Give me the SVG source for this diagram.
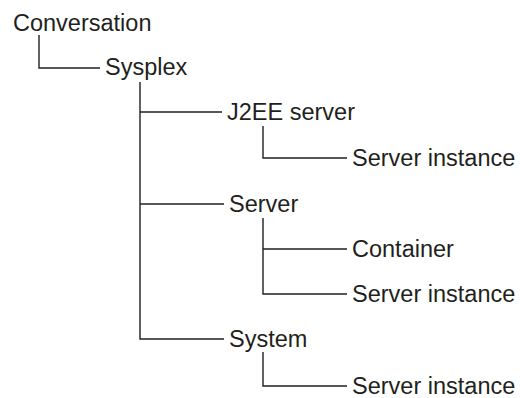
<svg xmlns="http://www.w3.org/2000/svg" width="520" height="398" viewBox="0 0 520 398">
<style>
text{font-family:"Liberation Sans",Arial,sans-serif;font-size:23.5px;fill:#231f20}
.c{fill:none;stroke:#231f20;stroke-width:1.4}
</style>
<rect width="520" height="398" fill="#fff"/>
<g id="connectors">
<path class="c" d="M39,35V68H100"/>
<path class="c" d="M140,82V339H224M140,112H222M140,204H224"/>
<path class="c" d="M263,126V158H347"/>
<path class="c" d="M263,218V294H347M263,249H347"/>
<path class="c" d="M263,352V386H347"/>
</g>
<g id="conversation"><text x="13" y="31">Conversation</text></g>
<g id="sysplex"><text x="105" y="75">Sysplex</text></g>
<g id="j2ee"><text x="227" y="120">J2EE server</text></g>
<g id="inst1"><text x="352" y="166">Server instance</text></g>
<g id="server"><text x="229" y="212">Server</text></g>
<g id="container"><text x="352" y="257">Container</text></g>
<g id="inst2"><text x="352" y="302">Server instance</text></g>
<g id="system"><text x="229" y="347">System</text></g>
<g id="inst3"><text x="352" y="394">Server instance</text></g>
</svg>
